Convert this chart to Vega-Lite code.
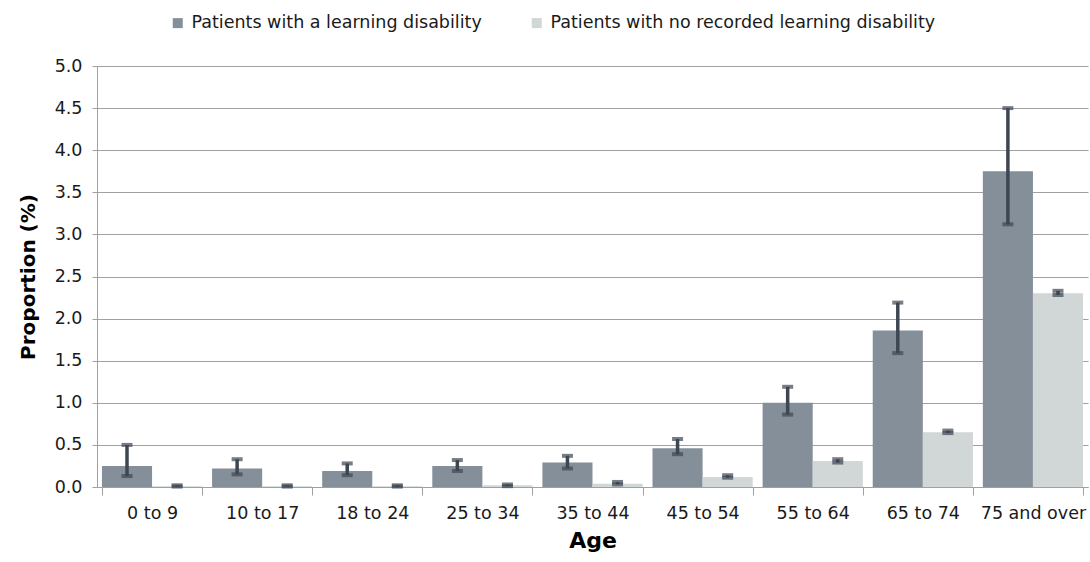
{
  "$schema": "https://vega.github.io/schema/vega-lite/v6.json",
  "autosize": {"type": "none"},
  "width": 991,
  "height": 421,
  "padding": {"left": 97, "top": 66, "right": 2, "bottom": 75},
  "background": "white",
  "config": {
    "view": {"stroke": null},
    "font": "DejaVu Sans",
    "axis": {"labelFont": "DejaVu Sans", "labelFontSize": 17.5, "labelColor": "#1a1a1a", "titleFont": "DejaVu Sans", "titleFontWeight": "bold", "titleColor": "#000000"}
  },
  "data": {
    "values": [
      {"age": "0 to 9", "group": "Patients with a learning disability", "value": 0.25, "lo": 0.13, "hi": 0.50},
      {"age": "10 to 17", "group": "Patients with a learning disability", "value": 0.22, "lo": 0.15, "hi": 0.33},
      {"age": "18 to 24", "group": "Patients with a learning disability", "value": 0.19, "lo": 0.14, "hi": 0.28},
      {"age": "25 to 34", "group": "Patients with a learning disability", "value": 0.25, "lo": 0.19, "hi": 0.32},
      {"age": "35 to 44", "group": "Patients with a learning disability", "value": 0.29, "lo": 0.22, "hi": 0.37},
      {"age": "45 to 54", "group": "Patients with a learning disability", "value": 0.46, "lo": 0.39, "hi": 0.57},
      {"age": "55 to 64", "group": "Patients with a learning disability", "value": 1.00, "lo": 0.86, "hi": 1.19},
      {"age": "65 to 74", "group": "Patients with a learning disability", "value": 1.86, "lo": 1.59, "hi": 2.19},
      {"age": "75 and over", "group": "Patients with a learning disability", "value": 3.75, "lo": 3.12, "hi": 4.50},
      {"age": "0 to 9", "group": "Patients with no recorded learning disability", "value": 0.01, "lo": 0.005, "hi": 0.02},
      {"age": "10 to 17", "group": "Patients with no recorded learning disability", "value": 0.01, "lo": 0.005, "hi": 0.02},
      {"age": "18 to 24", "group": "Patients with no recorded learning disability", "value": 0.01, "lo": 0.005, "hi": 0.02},
      {"age": "25 to 34", "group": "Patients with no recorded learning disability", "value": 0.02, "lo": 0.01, "hi": 0.03},
      {"age": "35 to 44", "group": "Patients with no recorded learning disability", "value": 0.04, "lo": 0.03, "hi": 0.06},
      {"age": "45 to 54", "group": "Patients with no recorded learning disability", "value": 0.12, "lo": 0.11, "hi": 0.14},
      {"age": "55 to 64", "group": "Patients with no recorded learning disability", "value": 0.31, "lo": 0.29, "hi": 0.33},
      {"age": "65 to 74", "group": "Patients with no recorded learning disability", "value": 0.65, "lo": 0.64, "hi": 0.67},
      {"age": "75 and over", "group": "Patients with no recorded learning disability", "value": 2.30, "lo": 2.28, "hi": 2.33}
    ]
  },
  "encoding": {
    "x": {
      "field": "age", "type": "nominal", "sort": null,
      "scale": {"paddingInner": 0.09, "paddingOuter": 0.045},
      "axis": {"title": "Age", "titleFontSize": 22, "labelAngle": 0, "tickBand": "extent", "tickSize": 8, "tickColor": "#a0a0a0", "domainColor": "#a0a0a0", "labelPadding": 9, "titlePadding": 9}
    },
    "xOffset": {"field": "group", "type": "nominal", "sort": null}
  },
  "layer": [
    {
      "mark": {"type": "bar"},
      "encoding": {
        "y": {
          "field": "value", "type": "quantitative",
          "scale": {"domain": [0, 5], "nice": false},
          "axis": {"title": "Proportion (%)", "titleFontSize": 20, "values": [0, 0.5, 1, 1.5, 2, 2.5, 3, 3.5, 4, 4.5, 5], "format": ".1f", "gridColor": "#a0a0a0", "gridWidth": 1, "domainColor": "#a0a0a0", "tickColor": "#a0a0a0", "tickSize": 5, "labelPadding": 10, "titlePadding": 16}
        },
        "color": {
          "field": "group", "type": "nominal", "sort": null,
          "scale": {"range": ["#858f9a", "#d1d6d6"]},
          "legend": {"title": null, "orient": "none", "legendX": 72, "legendY": -52, "direction": "horizontal", "symbolType": "square", "symbolSize": 100, "symbolStrokeWidth": 0, "labelFontSize": 17.5, "labelFont": "DejaVu Sans", "labelColor": "#1a1a1a", "labelLimit": 500, "columnPadding": 46, "labelOffset": 5}
        }
      }
    },
    {
      "mark": {"type": "rule", "color": "#3d4651", "strokeWidth": 3.5},
      "encoding": {
        "y": {"field": "lo", "type": "quantitative"},
        "y2": {"field": "hi"}
      }
    },
    {
      "mark": {"type": "tick", "color": "#3d4651", "thickness": 4, "size": 11},
      "encoding": {"y": {"field": "lo", "type": "quantitative"}}
    },
    {
      "mark": {"type": "tick", "color": "#3d4651", "thickness": 4, "size": 11},
      "encoding": {"y": {"field": "hi", "type": "quantitative"}}
    }
  ]
}
